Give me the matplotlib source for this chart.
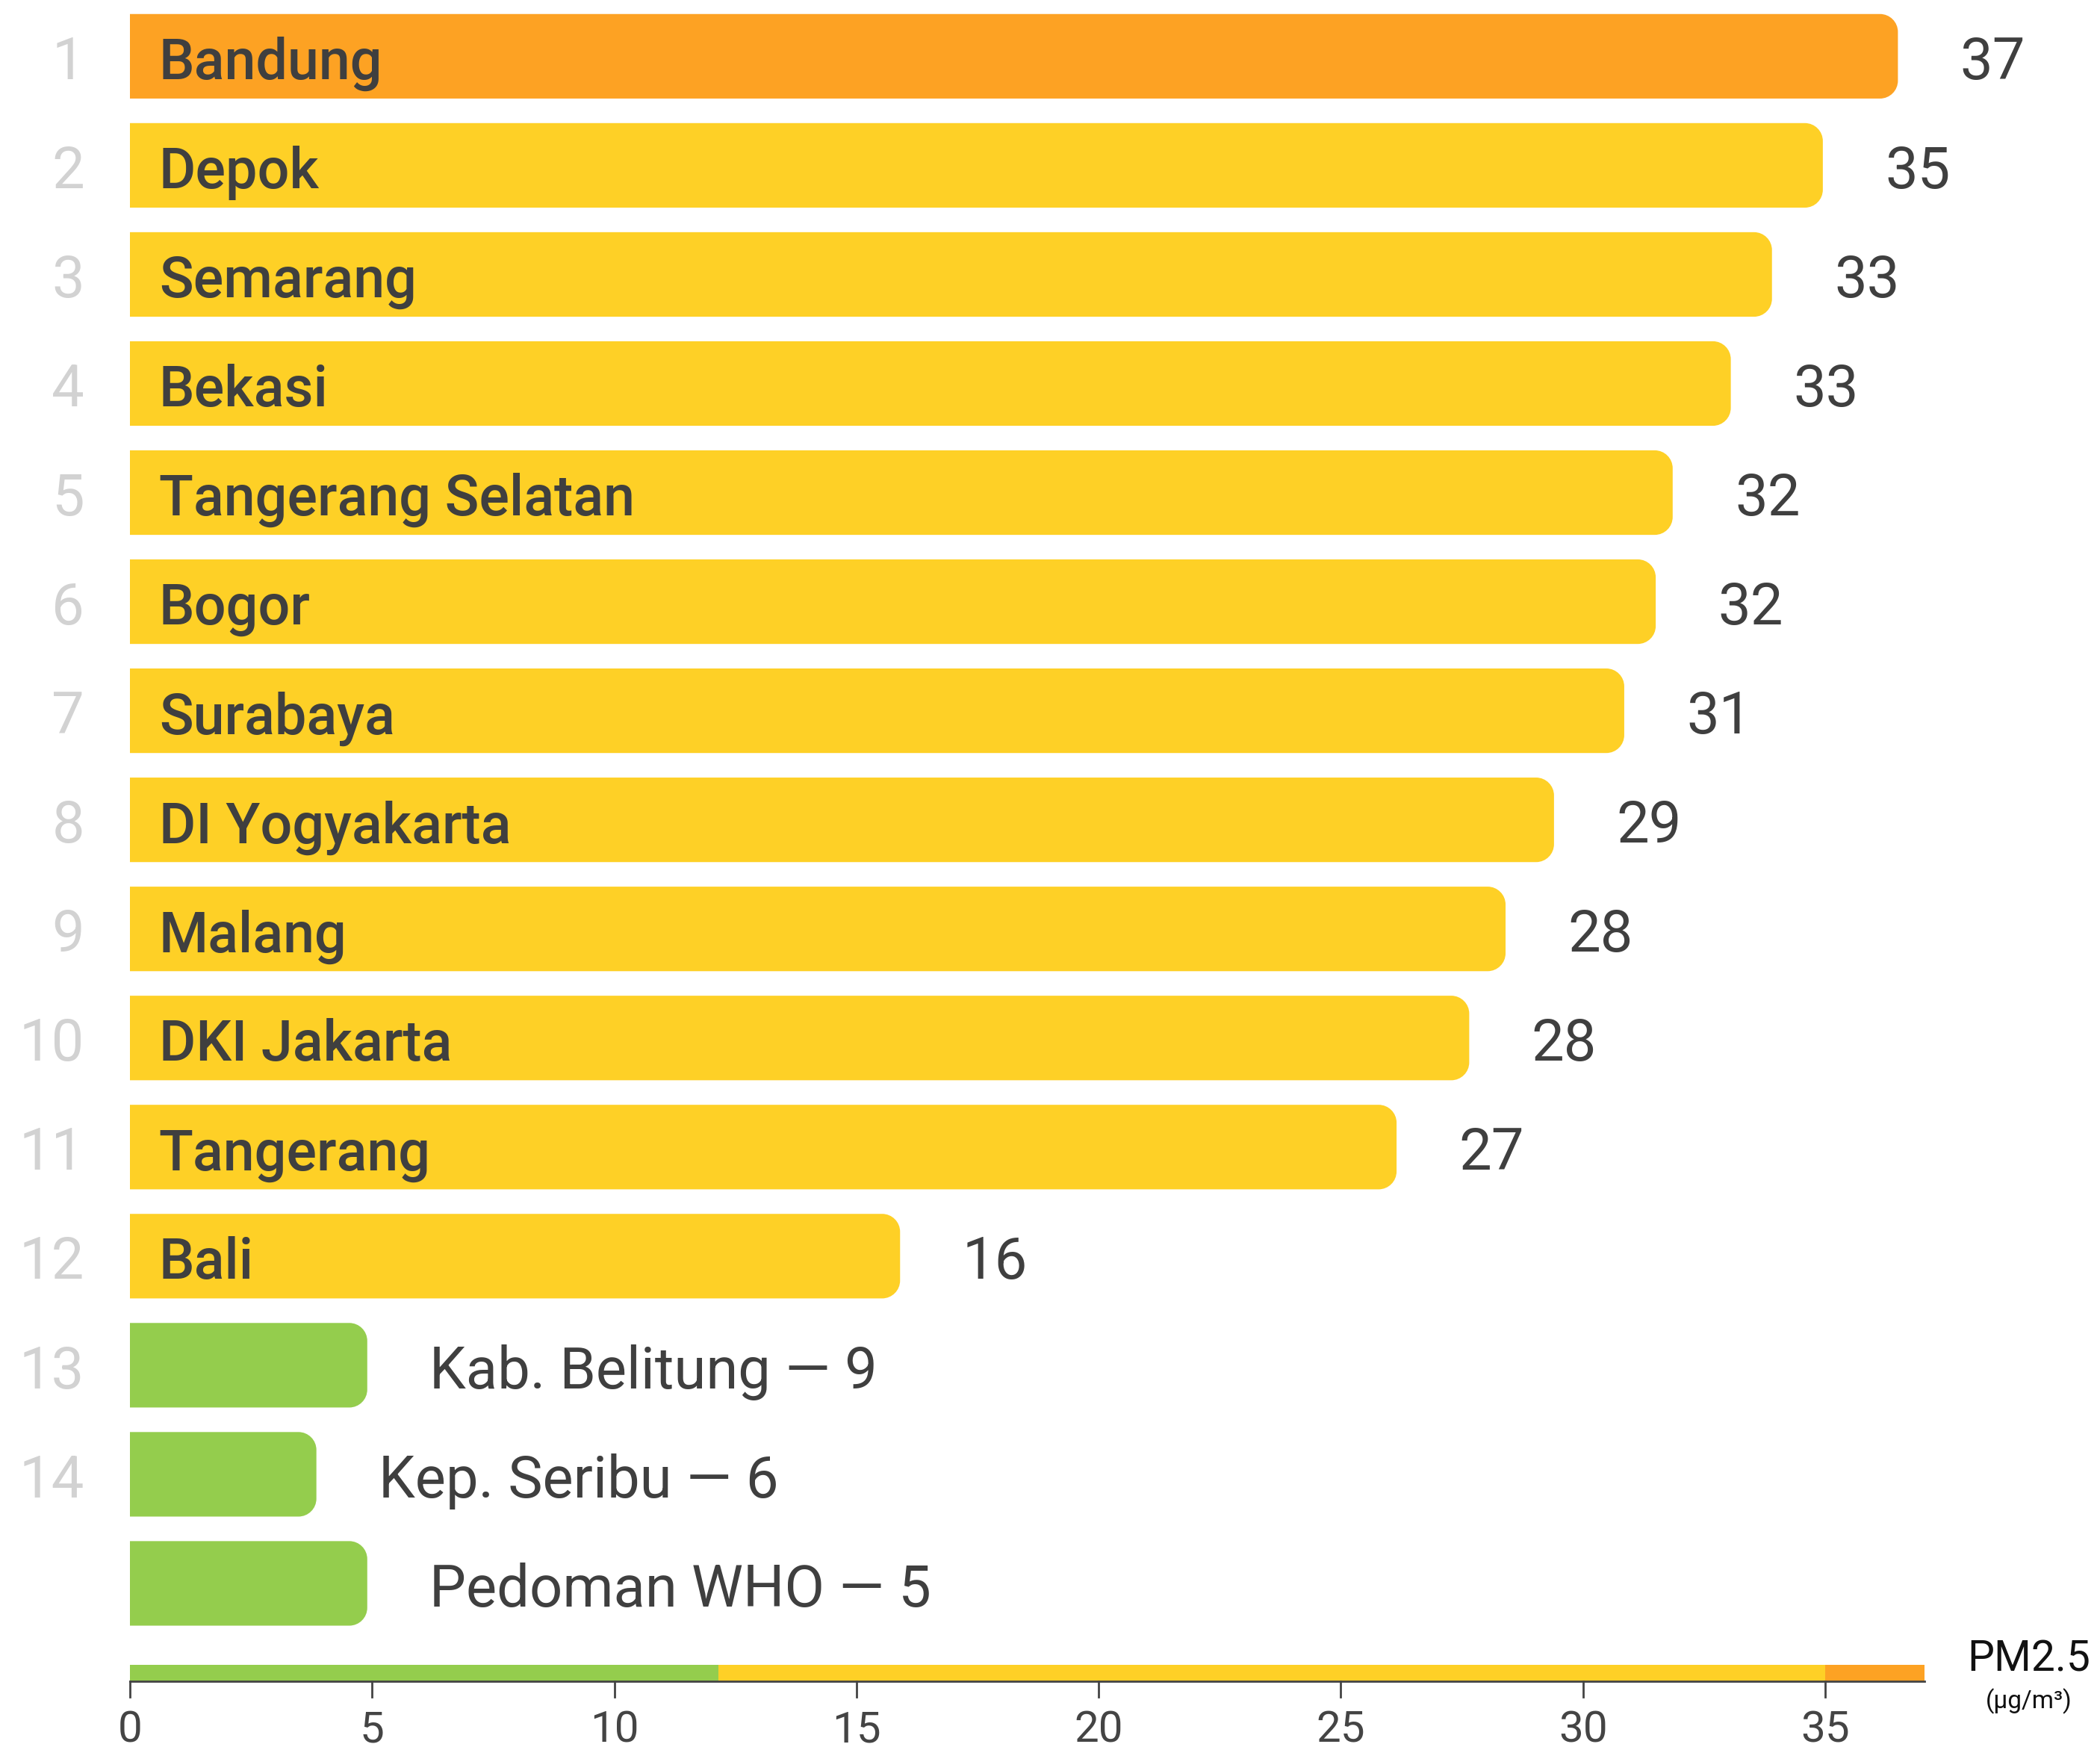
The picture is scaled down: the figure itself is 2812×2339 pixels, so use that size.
import matplotlib
matplotlib.use("Agg")
import matplotlib.pyplot as plt
from matplotlib.path import Path
from matplotlib.patches import PathPatch, Rectangle

# data
cities = ["Bandung", "Depok", "Semarang", "Bekasi", "Tangerang Selatan", "Bogor",
          "Surabaya", "DI Yogyakarta", "Malang", "DKI Jakarta", "Tangerang", "Bali",
          "Kab. Belitung", "Kep. Seribu", "Pedoman WHO"]
ranks = ["1", "2", "3", "4", "5", "6", "7", "8", "9", "10", "11", "12", "13", "14", ""]
bar_len = [36.5, 34.95, 33.9, 33.05, 31.85, 31.5, 30.85, 29.4, 28.4, 27.65, 26.15, 15.9,
           4.9, 3.85, 4.9]
value_labels = ["37", "35", "33", "33", "32", "32", "31", "29", "28", "28", "27", "16",
                "9", "6", "5"]
bar_colors = ["#FDA223"] + ["#FED026"] * 11 + ["#94CD4D"] * 3
inside = [True] * 12 + [False] * 3

scale_edges = [0, 12.15, 35.0, 37.05]
scale_colors = ["#94CD4D", "#FED026", "#FDA223"]
ticks = [0, 5, 10, 15, 20, 25, 30, 35]

DARK = "#3f3f3f"
SANS = ["Roboto", "DejaVu Sans"]

fig = plt.figure(figsize=(14.06, 11.695), dpi=200)
ax = fig.add_axes([97 / 1568, 0, (1437 - 97) / 1568, 1])
ax.set_xlim(0, 37.05)
ax.set_ylim(15.50, -0.516)
ax.axis("off")

# px per unit in the axes, used to keep corners round
fig.canvas.draw()
px_x = ax.transData.transform((1, 0))[0] - ax.transData.transform((0, 0))[0]
px_y = abs(ax.transData.transform((0, 1))[1] - ax.transData.transform((0, 0))[1])
rad = 24  # corner radius, pixels
rx, ry = rad / px_x, rad / px_y
k = 0.5523


def round_bar(y, length, h, color):
    y0, y1 = y - h / 2, y + h / 2
    verts = [(0, y0), (length - rx, y0),
             (length - rx + k * rx, y0), (length, y0 + ry - k * ry), (length, y0 + ry),
             (length, y1 - ry),
             (length, y1 - ry + k * ry), (length - rx + k * rx, y1), (length - rx, y1),
             (0, y1), (0, y0)]
    codes = [Path.MOVETO, Path.LINETO,
             Path.CURVE4, Path.CURVE4, Path.CURVE4,
             Path.LINETO,
             Path.CURVE4, Path.CURVE4, Path.CURVE4,
             Path.LINETO, Path.CLOSEPOLY]
    ax.add_patch(PathPatch(Path(verts, codes), facecolor=color, edgecolor="none"))


base = 0.21
for i, (city, rk, L, lab, col, ins) in enumerate(zip(cities, ranks, bar_len, value_labels,
                                                      bar_colors, inside)):
    round_bar(i, L, 0.775, col)
    ax.text(-0.94, i + base, rk, ha="right", va="baseline", fontsize=28,
            family=SANS, color="#d2d2d2", clip_on=False)
    if ins:
        ax.text(0.6, i + base, city, ha="left", va="baseline", fontsize=27.2,
                family=SANS, fontweight="medium", color=DARK)
        ax.annotate(lab, (L, i + base), xytext=(30, 0), textcoords="offset points",
                    ha="left", va="baseline", fontsize=28, family=SANS, color=DARK,
                    annotation_clip=False)
    else:
        ax.annotate(city + " \u2014 " + lab, (L, i + base), xytext=(30, 0),
                    textcoords="offset points", ha="left", va="baseline",
                    fontsize=28, family=SANS, color=DARK, annotation_clip=False)

# colour scale under the bars
sy0, sy1 = 14.75, 14.90
for a, b, c in zip(scale_edges[:-1], scale_edges[1:], scale_colors):
    ax.add_patch(Rectangle((a, sy0), b - a, sy1 - sy0, facecolor=c, edgecolor="none"))
ax.plot([0, scale_edges[-1]], [sy1, sy1], color="#444444", lw=1.0, clip_on=False)
for t in ticks:
    ax.plot([t, t], [sy1, 15.04], color="#444444", lw=1.0, clip_on=False)
    ax.text(t, 15.35, str(t), ha="center", va="center", fontsize=21, family=SANS,
            color="#444444")

ax.text(39.2, 14.70, "PM2.5", ha="center", va="center", fontsize=20.5, family=SANS,
        color="#111111", clip_on=False)
ax.text(39.2, 15.08, "(\u00b5g/m\u00b3)", ha="center", va="center", fontsize=12,
        family=SANS, color="#111111", clip_on=False)

fig.savefig("out.png", dpi=200)
